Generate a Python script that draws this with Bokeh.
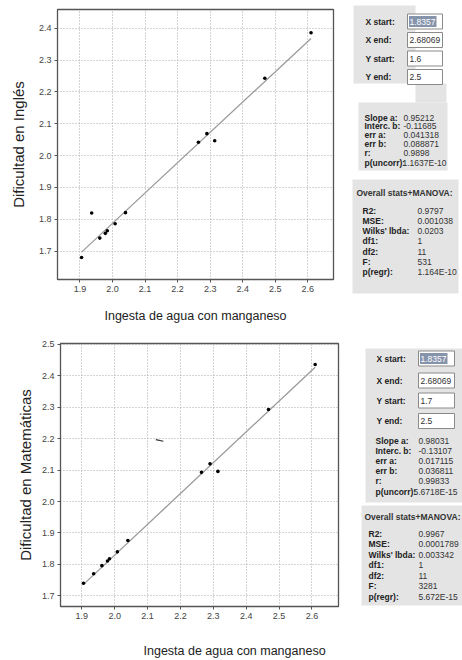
from bokeh.plotting import figure
from bokeh.models import Range1d, FixedTicker, PrintfTickFormatter, Title, LinearAxis
from bokeh.layouts import column, row
from bokeh.embed import file_html
from bokeh.resources import INLINE
from bokeh.core.properties import value

# ---------------- data ----------------
x_intake = [1.905, 1.936, 1.961, 1.978, 1.984, 2.008, 2.040, 2.264, 2.290, 2.314, 2.468, 2.610]
y_english = [1.680, 1.820, 1.741, 1.756, 1.764, 1.786, 1.821, 2.042, 2.069, 2.047, 2.243, 2.386]
y_math = [1.740, 1.770, 1.796, 1.811, 1.818, 1.840, 1.876, 2.093, 2.120, 2.096, 2.293, 2.436]

english_slope, english_intercept = 0.95212, -0.11685
math_slope, math_intercept = 0.98031, -0.13107

x_ticks = [1.9, 2.0, 2.1, 2.2, 2.3, 2.4, 2.5, 2.6]
english_y_ticks = [1.7, 1.8, 1.9, 2.0, 2.1, 2.2, 2.3, 2.4]
math_y_ticks = [1.7, 1.8, 1.9, 2.0, 2.1, 2.2, 2.3, 2.4, 2.5]

stray_mark_x = [2.125, 2.148]
stray_mark_y = [2.197, 2.192]

x_label = "Ingesta de agua con manganeso"
english_label = "Dificultad en Inglés"
math_label = "Dificultad en Matemáticas"

range_labels = ["X start:", "X end:", "Y start:", "Y end:"]
english_range_values = ["1.8357", "2.68069", "1.6", "2.5"]
math_range_values = ["1.8357", "2.68069", "1.7", "2.5"]

fit_labels = ["Slope a:", "Interc. b:", "err a:", "err b:", "r:"]
english_fit_values = ["0.95212", "-0.11685", "0.041318", "0.088871", "0.9898"]
math_fit_values = ["0.98031", "-0.13107", "0.017115", "0.036811", "0.99833"]
english_puncorr = "p(uncorr):1.1637E-10"
math_puncorr = "p(uncorr):5.6718E-15"

overall_title = "Overall stats+MANOVA:"
overall_labels = ["R2:", "MSE:", "Wilks' lbda:", "df1:", "df2:", "F:", "p(regr):"]
english_overall_values = ["0.9797", "0.001038", "0.0203", "1", "11", "531", "1.164E-10"]
math_overall_values = ["0.9967", "0.0001789", "0.003342", "1", "11", "3281", "5.672E-15"]

FONT = "Liberation Sans"
PLOT_W = 345
PANEL_W = 462 - PLOT_W
H = 330


def make_plot(ys, slope, intercept, xr, yr, yticks, ylabel, borders, ylab_standoff):
    left, right, top, bottom = borders
    p = figure(width=PLOT_W, height=H, output_backend="svg", toolbar_location=None,
               title_location=None,
               x_range=Range1d(*xr), y_range=Range1d(*yr),
               min_border_left=left, min_border_right=right,
               min_border_top=top, min_border_bottom=bottom)
    p.frame_align = False
    p.outline_line_color = "#555555"
    p.outline_line_width = 1.3
    for ax in (p.xaxis, p.yaxis):
        ax.axis_line_color = "#555555"
        ax.major_tick_line_color = "#555555"
        ax.major_tick_out = 3
        ax.major_tick_in = 0
        ax.minor_tick_line_color = None
        ax.major_label_text_font = FONT
        ax.major_label_text_font_size = "9px"
        ax.major_label_text_color = "#444444"
        ax.major_label_standoff = 3
        ax.formatter = PrintfTickFormatter(format="%.1f")
    p.xaxis.ticker = FixedTicker(ticks=x_ticks)
    p.yaxis.ticker = FixedTicker(ticks=yticks)
    p.yaxis.axis_label = ylabel
    p.yaxis.axis_label_text_font = FONT
    p.yaxis.axis_label_text_font_size = "15px"
    p.yaxis.axis_label_text_font_style = "normal"
    p.yaxis.axis_label_text_color = "#222222"
    p.yaxis.axis_label_standoff = ylab_standoff
    for g in (p.xgrid, p.ygrid):
        g.grid_line_color = "#a8a8a8"
        g.grid_line_dash = "1 2"
        g.grid_line_width = 1
    p.xgrid.ticker = FixedTicker(ticks=x_ticks)
    p.ygrid.ticker = FixedTicker(ticks=yticks)
    xs_fit = [min(x_intake), max(x_intake)]
    ys_fit = [slope * v + intercept for v in xs_fit]
    p.line(xs_fit, ys_fit, line_color="#9a9a9a", line_width=1.3)
    p.scatter(x_intake, ys, size=3.6, fill_color="black", line_color=None)
    return p


def make_panel(cfg):
    q = figure(width=PANEL_W, height=H, output_backend="svg", toolbar_location=None,
               title_location=None,
               x_range=Range1d(PLOT_W, 462), y_range=Range1d(cfg["y0"] + H, cfg["y0"]),
               x_axis_location=None, y_axis_location=None,
               min_border=0, min_border_left=0, min_border_right=0,
               min_border_top=0, min_border_bottom=0)
    q.frame_align = False
    q.grid.visible = False
    q.outline_line_color = None
    gray = "#e4e4e4"
    for (l, r, t, b) in cfg["boxes"]:
        q.quad(left=l, right=r, top=t, bottom=b, fill_color=gray, line_color=None)
    # range inputs
    for i, (lab, val) in enumerate(zip(range_labels, cfg["range_values"])):
        yy = cfg["range_y"][i]
        q.text([cfg["lab_x"]], [yy], text=[lab], text_font=value(FONT), text_font_size="8.5px",
               text_font_style="bold", text_color="#222222", text_baseline="middle")
        bl, br = cfg["input_x"]
        q.quad(left=bl, right=br, top=yy - 7.5, bottom=yy + 7.5, fill_color="white",
               line_color="#8a8a8a", line_width=1)
        if i == 0:
            q.quad(left=bl + 1.5, right=bl + 29, top=yy - 5.5, bottom=yy + 5.5,
                   fill_color="#8593ab", line_color=None)
            col = "white"
        else:
            col = "#333333"
        q.text([bl + 2], [yy], text=[val], text_font=value(FONT), text_font_size="8.5px",
               text_color=col, text_baseline="middle")
    # fit stats
    for i, (lab, val) in enumerate(zip(fit_labels, cfg["fit_values"])):
        yy = cfg["fit_y0"] + i * cfg["fit_dy"]
        q.text([cfg["fit_lab_x"]], [yy], text=[lab], text_font=value(FONT), text_font_size="8.5px",
               text_font_style="bold", text_color="#222222", text_baseline="middle")
        q.text([cfg["fit_val_x"]], [yy], text=[val], text_font=value(FONT), text_font_size="8.5px",
               text_color="#333333", text_baseline="middle")
    yy = cfg["fit_y0"] + 5 * cfg["fit_dy"] + 1
    pl = cfg["puncorr"].split(":")
    q.text([cfg["fit_lab_x"]], [yy], text=[pl[0] + ":"], text_font=value(FONT), text_font_size="8.5px",
           text_font_style="bold", text_color="#222222", text_baseline="middle")
    q.text([cfg["fit_lab_x"] + 38], [yy], text=[pl[1]], text_font=value(FONT), text_font_size="8.5px",
           text_color="#333333", text_baseline="middle")
    # overall
    q.text([cfg["ov_title_x"]], [cfg["ov_title_y"]], text=[overall_title], text_font=value(FONT),
           text_font_size="8.5px", text_font_style="bold", text_color="#333333", text_baseline="middle")
    for i, (lab, val) in enumerate(zip(overall_labels, cfg["overall_values"])):
        yy = cfg["ov_y0"] + i * cfg["ov_dy"]
        q.text([cfg["ov_lab_x"]], [yy], text=[lab], text_font=value(FONT), text_font_size="8.5px",
               text_font_style="bold", text_color="#222222", text_baseline="middle")
        q.text([cfg["ov_val_x"]], [yy], text=[val], text_font=value(FONT), text_font_size="8.5px",
               text_color="#333333", text_baseline="middle")
    return q


p1 = make_plot(y_english, english_slope, english_intercept, (1.831, 2.679), (1.611, 2.459),
               english_y_ticks, english_label, (57, 12, 9, 51), 9)
p1.xaxis.axis_label = x_label
p1.xaxis.axis_label_text_font = FONT
p1.xaxis.axis_label_text_font_size = "12.5px"
p1.xaxis.axis_label_text_font_style = "normal"
p1.xaxis.axis_label_text_color = "#222222"
p1.xaxis.axis_label_standoff = 14

p2 = make_plot(y_math, math_slope, math_intercept, (1.835, 2.681), (1.666, 2.503),
               math_y_ticks, math_label, (60, 7, 13, 47), 5)
# empty spacer axis pushes the left-offset title down
spacer = LinearAxis(ticker=FixedTicker(ticks=[]), axis_line_color=None,
                    major_tick_line_color=None, minor_tick_line_color=None,
                    major_tick_out=0, major_tick_in=0, major_label_standoff=0,
                    major_label_text_font_size="1px",
                    axis_label=" ", axis_label_text_font_size="11px", axis_label_standoff=2)
p2.add_layout(spacer, "below")
p2.add_layout(Title(text=x_label, align="left", offset=83, standoff=6,
                    text_font=FONT, text_font_size="12.5px", text_font_style="normal",
                    text_color="#222222"), "below")
p2.line(stray_mark_x, stray_mark_y, line_color="#333333", line_width=1.2)

top_cfg = dict(
    y0=0,
    boxes=[(353, 415, 5, 83), (415, 446, 83, 102), (358, 447, 102, 170), (352, 458, 179, 293)],
    range_values=english_range_values, range_y=[21, 39.5, 58, 76.5], lab_x=365, input_x=(407, 442),
    fit_values=english_fit_values, fit_y0=117, fit_dy=8.8, fit_lab_x=364, fit_val_x=403,
    puncorr=english_puncorr,
    ov_title_x=356, ov_title_y=192, ov_y0=210, ov_dy=10.3, ov_lab_x=362, ov_val_x=417,
    overall_values=english_overall_values,
)
bot_cfg = dict(
    y0=330,
    boxes=[(365, 462, 348, 502), (361, 462, 505, 605)],
    range_values=math_range_values, range_y=[358, 380, 400, 420.5], lab_x=376, input_x=(418, 454),
    fit_values=math_fit_values, fit_y0=440, fit_dy=10, fit_lab_x=375, fit_val_x=418,
    puncorr=math_puncorr,
    ov_title_x=364, ov_title_y=516, ov_y0=533, ov_dy=10.5, ov_lab_x=368, ov_val_x=418,
    overall_values=math_overall_values,
)
q1 = make_panel(top_cfg)
q2 = make_panel(bot_cfg)

layout = column(row(p1, q1, spacing=0), row(p2, q2, spacing=0), spacing=0)
open("out.html", "w").write(file_html(layout, INLINE))
